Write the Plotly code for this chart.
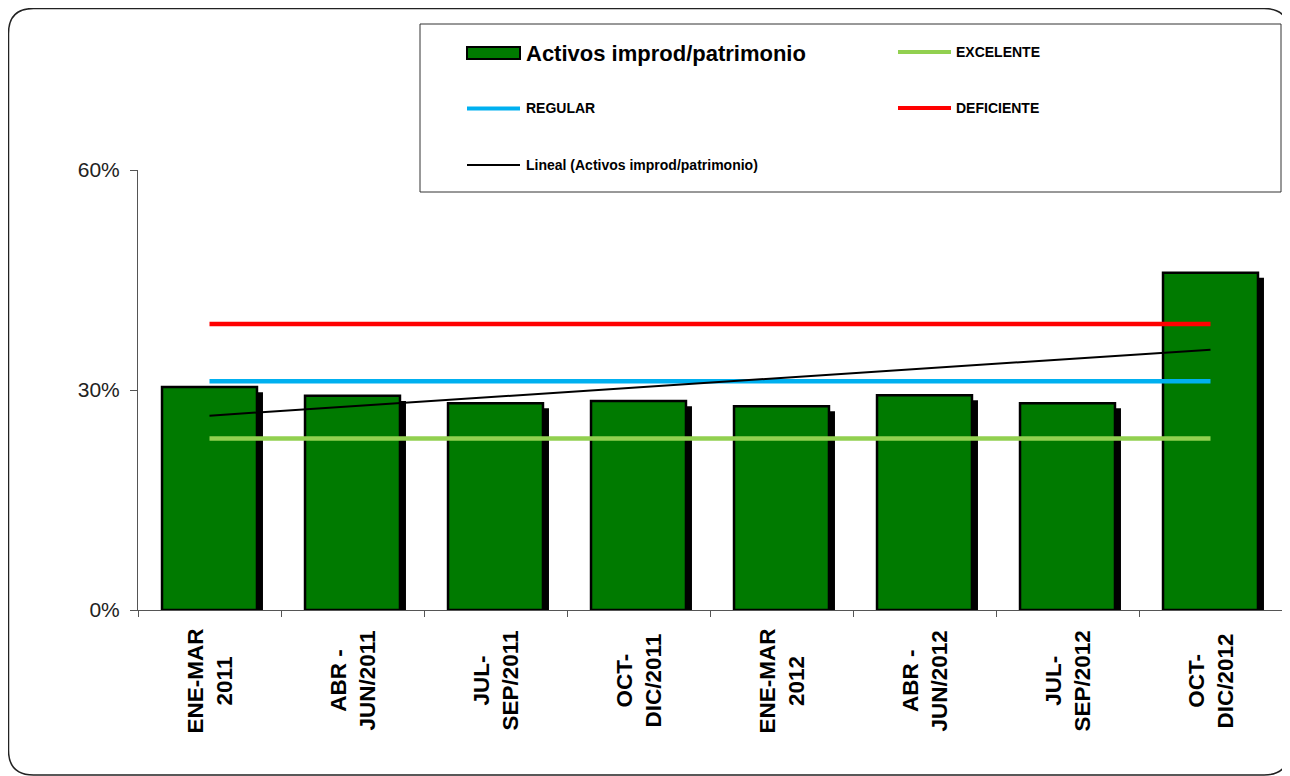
import plotly.graph_objects as go

# datos (porcentajes)
periodos = ["ENE-MAR<br>2011", "ABR -<br>JUN/2011", "JUL-<br>SEP/2011", "OCT-<br>DIC/2011",
            "ENE-MAR<br>2012", "ABR -<br>JUN/2012", "JUL-<br>SEP/2012", "OCT-<br>DIC/2012"]
activos_improd = [30.4, 29.2, 28.2, 28.5, 27.8, 29.3, 28.2, 46.0]
excelente = [23.4, 23.4]
regular = [31.2, 31.2]
deficiente = [39.0, 39.0]
tendencia = [26.5, 35.5]
y_ticks = [0, 30, 60]
y_labels = ["0%", "30%", "60%"]

# la pagina deja 8px de margen, asi que la figura es 8px mas chica
OFF = 8
W, H = 1290 - OFF, 776 - OFF
L, R, T, B = 138 - OFF, 8, 170 - OFF, 166
PW, PH = W - L - R, H - T - B


def px(x):
    # x en pixeles de pantalla -> paper
    return (x - OFF - L) / PW


def py(y):
    return (H - B - (y - OFF)) / PH


VERDE = "#007A00"
font = "Liberation Sans, Arial, sans-serif"

fig = go.Figure()

# sombra de las barras
fig.add_trace(go.Bar(
    x=periodos, y=[v - 0.2 for v in activos_improd], base=-0.5,
    width=0.664, offset=-0.29,
    marker=dict(color="black", line=dict(width=0)),
    hoverinfo="skip", showlegend=False, cliponaxis=False))

fig.add_trace(go.Bar(
    name="Activos improd/patrimonio", x=periodos, y=activos_improd,
    width=0.664, offset=-0.332,
    marker=dict(color=VERDE, line=dict(color="black", width=2.5)),
    showlegend=False))

ext = [periodos[0], periodos[-1]]
fig.add_trace(go.Scatter(name="EXCELENTE", x=ext, y=excelente, mode="lines",
                         line=dict(color="#92D050", width=4.5), showlegend=False))
fig.add_trace(go.Scatter(name="REGULAR", x=ext, y=regular, mode="lines",
                         line=dict(color="#00B0F0", width=4.5), showlegend=False))
fig.add_trace(go.Scatter(name="DEFICIENTE", x=ext, y=deficiente, mode="lines",
                         line=dict(color="#FF0000", width=4.5), showlegend=False))
fig.add_trace(go.Scatter(name="Lineal (Activos improd/patrimonio)", x=ext, y=tendencia,
                         mode="lines", line=dict(color="black", width=2), showlegend=False))

# etiquetas del eje x (centradas, rotadas)
annotations = []
for p in periodos:
    annotations.append(dict(x=p, xref="x", y=py(681), yref="paper", text="<b>" + p + "</b>",
                            textangle=-90, showarrow=False, align="center",
                            xanchor="center", yanchor="middle",
                            font=dict(family=font, size=22.5, color="black")))

# leyenda dibujada a mano
shapes = [
    dict(type="rect", xref="paper", yref="paper", x0=px(420), x1=px(1281), y0=py(24), y1=py(192),
         line=dict(color="#333", width=1), fillcolor="white"),
    dict(type="rect", xref="paper", yref="paper", x0=px(467), x1=px(520), y0=py(47), y1=py(59),
         line=dict(color="black", width=2), fillcolor=VERDE),
    dict(type="line", xref="paper", yref="paper", x0=px(467), x1=px(520), y0=py(108.5), y1=py(108.5),
         line=dict(color="#00B0F0", width=4)),
    dict(type="line", xref="paper", yref="paper", x0=px(467), x1=px(520), y0=py(165), y1=py(165),
         line=dict(color="black", width=2)),
    dict(type="line", xref="paper", yref="paper", x0=px(898), x1=px(951), y0=py(52), y1=py(52),
         line=dict(color="#92D050", width=4)),
    dict(type="line", xref="paper", yref="paper", x0=px(898), x1=px(951), y0=py(108), y1=py(108),
         line=dict(color="#FF0000", width=4)),
]

leyenda = [("Activos improd/patrimonio", 524, 53, 22),
           ("REGULAR", 524, 108.5, 14),
           ("Lineal (Activos improd/patrimonio)", 524, 165, 14),
           ("EXCELENTE", 954, 52, 14),
           ("DEFICIENTE", 954, 108, 14)]
for txt, lx, ly, fs in leyenda:
    annotations.append(dict(x=px(lx), y=py(ly), xref="paper", yref="paper", text="<b>" + txt + "</b>",
                            showarrow=False, xanchor="left", yanchor="middle",
                            font=dict(family=font, size=fs, color="black")))

# marco redondeado exterior
x0, x1, y0, y1, r = 8.5, 1289, 8.5, 775, 25
path = (f"M {px(x0 + r)},{py(y0)} L {px(x1 - r)},{py(y0)} Q {px(x1)},{py(y0)} {px(x1)},{py(y0 + r)} "
        f"L {px(x1)},{py(y1 - r)} Q {px(x1)},{py(y1)} {px(x1 - r)},{py(y1)} "
        f"L {px(x0 + r)},{py(y1)} Q {px(x0)},{py(y1)} {px(x0)},{py(y1 - r)} "
        f"L {px(x0)},{py(y0 + r)} Q {px(x0)},{py(y0)} {px(x0 + r)},{py(y0)} Z")
shapes.append(dict(type="path", xref="paper", yref="paper", path=path,
                   line=dict(color="#222", width=1.5), layer="below"))

fig.update_layout(
    width=W, height=H,
    margin=dict(l=L, r=R, t=T, b=B),
    barmode="overlay",
    plot_bgcolor="white", paper_bgcolor="white",
    font=dict(family=font, color="black"),
    shapes=shapes, annotations=annotations,
    showlegend=False,
)
fig.update_xaxes(type="category", range=[-0.5, 7.5], showline=True, linecolor="#555", linewidth=1,
                 ticks="outside", tickson="boundaries", ticklen=6, tickcolor="#555",
                 showticklabels=False, showgrid=False, zeroline=False)
fig.update_yaxes(range=[0, 60], tickvals=y_ticks, ticktext=y_labels, showline=True, linecolor="#555",
                 linewidth=1, ticks="outside", ticklen=7, tickcolor="#555", showgrid=False,
                 zeroline=False, tickfont=dict(family=font, size=21, color="#222"), ticklabelstandoff=6)

fig.write_html("out.html")
